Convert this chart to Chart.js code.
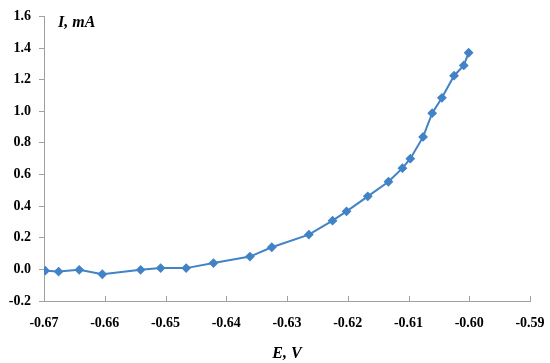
<!DOCTYPE html>
<html>
<head>
<meta charset="utf-8">
<script src="https://cdn.jsdelivr.net/npm/chart.js@4/dist/chart.umd.min.js"></script>
<style>
    html, body { margin: 0; padding: 0; background: #fff; }
    #wrap { width: 550px; height: 363px; }
</style>
</head>
<body>
<div id="wrap"><canvas id="ivChart"></canvas></div>
<script>
//Potential E (V) and current I (mA)
let Potential = [-0.6698, -0.6676, -0.6642, -0.6604, -0.6541, -0.6508, -0.6466, -0.6421, -0.6361, -0.6325,
    -0.6264, -0.6225, -0.6202, -0.6167, -0.6133, -0.6110, -0.6097, -0.6076, -0.6061, -0.6045,
    -0.6025, -0.6009, -0.6001];
let Current = [-0.008, -0.014, -0.003, -0.031, -0.003, 0.008, 0.008, 0.040, 0.081, 0.140,
    0.220, 0.308, 0.367, 0.462, 0.554, 0.640, 0.700, 0.838, 0.988, 1.085,
    1.225, 1.290, 1.370];

//Axis limits
let xLimits = [-0.67, -0.59];
let yLimits = [-0.2, 1.6];

let axisColor = '#a0a0a0';
let lineColor = '#4282c6';

const points = Potential.map((e, i) => ({ x: e, y: Current[i] }));

//x ticks point into the plot, like the original
const innerTicks = {
    id: 'innerTicks',
    afterDraw(chart) {
        const c = chart.ctx;
        const xs = chart.scales.x;
        const bottom = chart.chartArea.bottom;
        c.save();
        c.strokeStyle = axisColor;
        c.lineWidth = 1;
        xs.ticks.forEach(t => {
            const px = Math.round(xs.getPixelForValue(t.value)) + 0.5;
            c.beginPath();
            c.moveTo(px, bottom);
            c.lineTo(px, bottom - 5);
            c.stroke();
        });
        c.restore();
    }
};

//Y title sits inside the plot area
const yTitle = {
    id: 'yTitle',
    afterDraw(chart) {
        const c = chart.ctx;
        c.save();
        c.font = 'italic bold 16px "Liberation Serif", serif';
        c.fillStyle = '#000';
        c.textBaseline = 'alphabetic';
        c.fillText('I, mA', chart.chartArea.left + 14, 27);
        c.restore();
    }
};

const config = {
    type: 'scatter',
    data: {
        datasets: [{
            label: 'I',
            data: points,
            showLine: true,
            borderColor: lineColor,
            backgroundColor: lineColor,
            borderWidth: 2,
            pointStyle: 'rectRot',
            pointRadius: 3.5,
            pointHoverRadius: 3.5,
        }]
    },
    options: {
        responsive: true,
        maintainAspectRatio: false,
        animation: false,
        layout: { padding: { top: 7, right: 0, left: 0, bottom: 0 } },
        plugins: {
            legend: { display: false },
            tooltip: { enabled: false },
        },
        scales: {
            x: {
                type: 'linear',
                min: xLimits[0],
                max: xLimits[1],
                ticks: {
                    stepSize: 0.01,
                    padding: 14,
                    color: '#000',
                    font: { family: '"Liberation Serif", serif', size: 14, weight: 'bold' },
                    callback: v => Number(v).toFixed(2),
                },
                grid: { display: true, drawOnChartArea: false, drawTicks: false, color: axisColor },
                border: { display: true, color: axisColor, width: 1 },
                title: {
                    display: true,
                    text: 'E, V',
                    color: '#000',
                    padding: { top: 8, bottom: 0 },
                    font: { family: '"Liberation Serif", serif', size: 16, weight: 'bold', style: 'italic' },
                },
                afterFit: s => { s.height = 62; s.paddingRight = 20; },
            },
            y: {
                min: yLimits[0],
                max: yLimits[1],
                ticks: {
                    stepSize: 0.2,
                    padding: 8,
                    color: '#000',
                    font: { family: '"Liberation Serif", serif', size: 14, weight: 'bold' },
                    callback: v => Number(v).toFixed(1),
                },
                grid: { display: true, drawOnChartArea: false, drawTicks: true, tickLength: 5, color: axisColor },
                border: { display: true, color: axisColor, width: 1 },
                afterFit: s => { s.width = 44; },
            },
        }
    },
    plugins: [innerTicks, yTitle]
};

let IVChart = new Chart(document.getElementById('ivChart'), config);
</script>
</body>
</html>
